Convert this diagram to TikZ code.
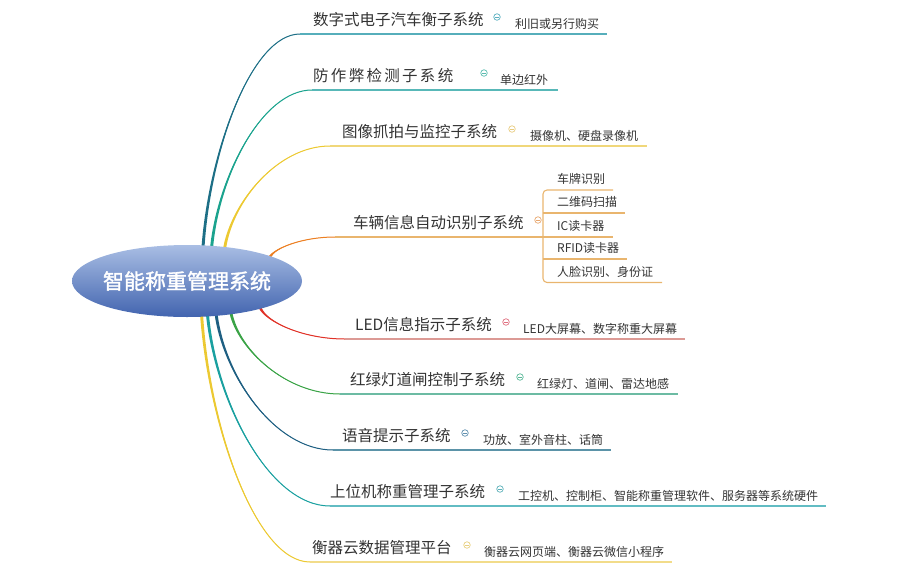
\documentclass[tikz,border=0pt]{standalone}
\usepackage{fontspec}
\newfontfamily\cjk{Noto Sans CJK SC}
\newfontfamily\cjkbold[FakeBold=1.6]{Noto Sans CJK SC}
\usetikzlibrary{shapes.geometric,calc,backgrounds}
\definecolor{txt}{HTML}{333333}
\definecolor{rtop}{HTML}{A9BEE4}\definecolor{rbot}{HTML}{4264AF}
\definecolor{ca}{HTML}{1D6F86}\definecolor{ua}{HTML}{56AEBB}\definecolor{ma}{HTML}{5AB0C0}
\definecolor{cb}{HTML}{1BA38E}\definecolor{ub}{HTML}{58B8B8}\definecolor{mb}{HTML}{5ABCB0}
\definecolor{cc}{HTML}{ECC932}\definecolor{uc}{HTML}{F0D77A}\definecolor{mc}{HTML}{E8CC80}
\definecolor{cd}{HTML}{EC7F22}\definecolor{ud}{HTML}{E9B56E}\definecolor{md}{HTML}{E8A870}
\definecolor{ce}{HTML}{E03228}\definecolor{ue}{HTML}{DC9A95}\definecolor{me}{HTML}{E07080}
\definecolor{cf}{HTML}{3AA346}\definecolor{uf}{HTML}{6CBBA3}\definecolor{mf}{HTML}{5AB898}
\definecolor{cg}{HTML}{1E5F82}\definecolor{ug}{HTML}{5B93A8}\definecolor{mg}{HTML}{6090B0}
\definecolor{ch}{HTML}{1AA0A0}\definecolor{uh}{HTML}{62BCC3}\definecolor{mh}{HTML}{5AB0B8}
\definecolor{ci}{HTML}{ECC932}\definecolor{ui}{HTML}{F2DC8A}\definecolor{mi}{HTML}{E8D080}
% branch curve: start, end, colour
\newcommand\twig[3]{%
  \draw[#3, line width=1pt] let \p1=(#1), \p2=(#2) in
    (\p1) .. controls (\x1+0.07*\x2-0.07*\x1, 0.55*\y1+0.45*\y2) and (0.5*\x1+0.5*\x2, \y2) .. (\p2);
  \fill[#3] let \p1=(#1), \p2=(#2) in
    (\x1-1.5pt,\y1) .. controls (\x1+0.07*\x2-0.07*\x1-1pt, 0.55*\y1+0.45*\y2) and (0.5*\x1+0.5*\x2, \y2) .. (\p2)
    .. controls (0.5*\x1+0.5*\x2, \y2) and (\x1+0.07*\x2-0.07*\x1+1pt, 0.55*\y1+0.45*\y2) .. (\x1+1.5pt,\y1) -- cycle;}
\begin{document}
\begin{tikzpicture}[x=1pt,y=-1pt,
  lbl/.style={anchor=base west, inner sep=0, text=txt, font=\cjk\fontsize{15.5}{18}\selectfont},
  sub/.style={anchor=base west, inner sep=0, text=txt, font=\cjk\fontsize{12}{14}\selectfont},
  mkr/.style={circle, minimum size=6.5pt, inner sep=0, line width=0.7pt, draw=#1,
    path picture={\draw[#1, line width=0.7pt] ([xshift=-1.7pt]path picture bounding box.center) -- ([xshift=1.7pt]path picture bounding box.center);}},
  uline/.style={line width=1.1pt},
  rootshape/.style={ellipse, minimum width=230pt, minimum height=72pt, inner sep=0,
    top color=rtop, bottom color=rbot, draw=none}
]
\useasboundingbox (0,0) rectangle (898,574);

% root
\node[rootshape] (root) at (187,281) {};
\node[text=white, font=\cjkbold\fontsize{21}{24}\selectfont, inner sep=0] (roottext) at (187,281) {智能称重管理系统};

% start and end coordinates
\coordinate (s1) at ($(root.center)!0.96!(root.65.4)$);
\coordinate (s2) at ($(root.center)!0.96!(root.54.5)$);
\coordinate (s3) at ($(root.center)!0.96!(root.41)$);
\coordinate (s4) at ($(root.center)!0.97!(root.16.2)$);
\coordinate (s5) at ($(root.center)!0.97!(root.-20.2)$);
\coordinate (s6) at ($(root.center)!0.96!(root.-36.5)$);
\coordinate (s7) at ($(root.center)!0.96!(root.-49.4)$);
\coordinate (s8) at ($(root.center)!0.96!(root.-59.7)$);
\coordinate (s9) at ($(root.center)!0.96!(root.-67.4)$);

\coordinate (e1) at (300,34);  \coordinate (r1) at (607,34);
\coordinate (e2) at (312,90);  \coordinate (r2) at (558,90);
\coordinate (e3) at (330,146); \coordinate (r3) at (647,146);
\coordinate (e4) at (335,237); \coordinate (j4) at (543,237);
\coordinate (e5) at (345,339); \coordinate (r5) at (685,339);
\coordinate (e6) at (340,394); \coordinate (r6) at (678,394);
\coordinate (e7) at (333,450); \coordinate (r7) at (611,450);
\coordinate (e8) at (330,506); \coordinate (r8) at (826,506);
\coordinate (e9) at (310,562); \coordinate (r9) at (672,562);

\begin{scope}[on background layer]
\twig{s1}{e1}{ca}
\twig{s2}{e2}{cb}
\twig{s3}{e3}{cc}
\twig{s4}{e4}{cd}
\twig{s5}{e5}{ce}
\twig{s6}{e6}{cf}
\twig{s7}{e7}{cg}
\twig{s8}{e8}{ch}
\twig{s9}{e9}{ci}
\end{scope}

% underlines
\draw[uline, ua] (e1) -- (r1);
\draw[uline, ub] (e2) -- (r2);
\draw[uline, uc] (e3) -- (r3);
\draw[uline, ud] (e4) -- (j4);
\draw[uline, ue] (e5) -- (r5);
\draw[uline, uf] (e6) -- (r6);
\draw[uline, ug] (e7) -- (r7);
\draw[uline, uh] (e8) -- (r8);
\draw[uline, ui] (e9) -- (r9);

% bracket of branch 4
\coordinate (b1) at (613,190);
\coordinate (b2) at (625,213);
\coordinate (b3) at (613,237);
\coordinate (b4) at (627,259);
\coordinate (b5) at (662,282.5);
\draw[uline, ud, rounded corners=4pt] (b1) -- (543,190) -- (543,282.5) -- (b5);
\draw[uline, ud] (543,213) -- (b2);
\draw[uline, ud] (j4) -- (b3);
\draw[uline, ud] (543,259) -- (b4);

% labels
\node[lbl] (l1) at (313,25) {数字式电子汽车衡子系统};
\node[lbl] (l2) at (313,81) {防\kern2.3pt 作\kern2.3pt 弊\kern2.3pt 检\kern2.3pt 测\kern2.3pt 子\kern2.3pt 系\kern2.3pt 统};
\node[lbl] (l3) at (342,137) {图像抓拍与监控子系统};
\node[lbl] (l4) at (353,228) {车辆信息自动识别子系统};
\node[lbl] (l5) at (355,330) {LED信息指示子系统};
\node[lbl] (l6) at (350,385) {红绿灯道闸控制子系统};
\node[lbl] (l7) at (342,441) {语音提示子系统};
\node[lbl] (l8) at (330,497) {上位机称重管理子系统};
\node[lbl] (l9) at (312,553) {衡器云数据管理平台};

% collapse markers
\node[mkr=ma] (m1) at (497,17) {};
\node[mkr=mb] (m2) at (484,73) {};
\node[mkr=mc] (m3) at (512,129) {};
\node[mkr=md] (m4) at (538,220) {};
\node[mkr=me] (m5) at (506,322) {};
\node[mkr=mf] (m6) at (520,377) {};
\node[mkr=mg] (m7) at (465,433) {};
\node[mkr=mh] (m8) at (500,489) {};
\node[mkr=mi] (m9) at (467,545) {};

% children
\node[sub] (k1) at (515,28.6) {利旧或另行购买};
\node[sub] (k2) at (500,84.6) {单边红外};
\node[sub] (k3) at (530,140.6) {摄像机、硬盘录像机};
\node[sub] (k41) at (557,183.6) {车牌识别};
\node[sub] (k42) at (557,206.6) {二维码扫描};
\node[sub] (k43) at (557,230.1) {IC读卡器};
\node[sub] (k44) at (557,252.6) {RFID读卡器};
\node[sub] (k45) at (557,276.1) {人脸识别、身份证};
\node[sub] (k5) at (523,333.6) {LED大屏幕、数字称重大屏幕};
\node[sub] (k6) at (537,388.6) {红绿灯、道闸、雷达地感};
\node[sub] (k7) at (483,444.6) {功放、室外音柱、话筒};
\node[sub] (k8) at (518,500.6) {工控机、控制柜、智能称重管理软件、服务器等系统硬件};
\node[sub] (k9) at (484,556.6) {衡器云网页端、衡器云微信小程序};
\end{tikzpicture}
\end{document}
